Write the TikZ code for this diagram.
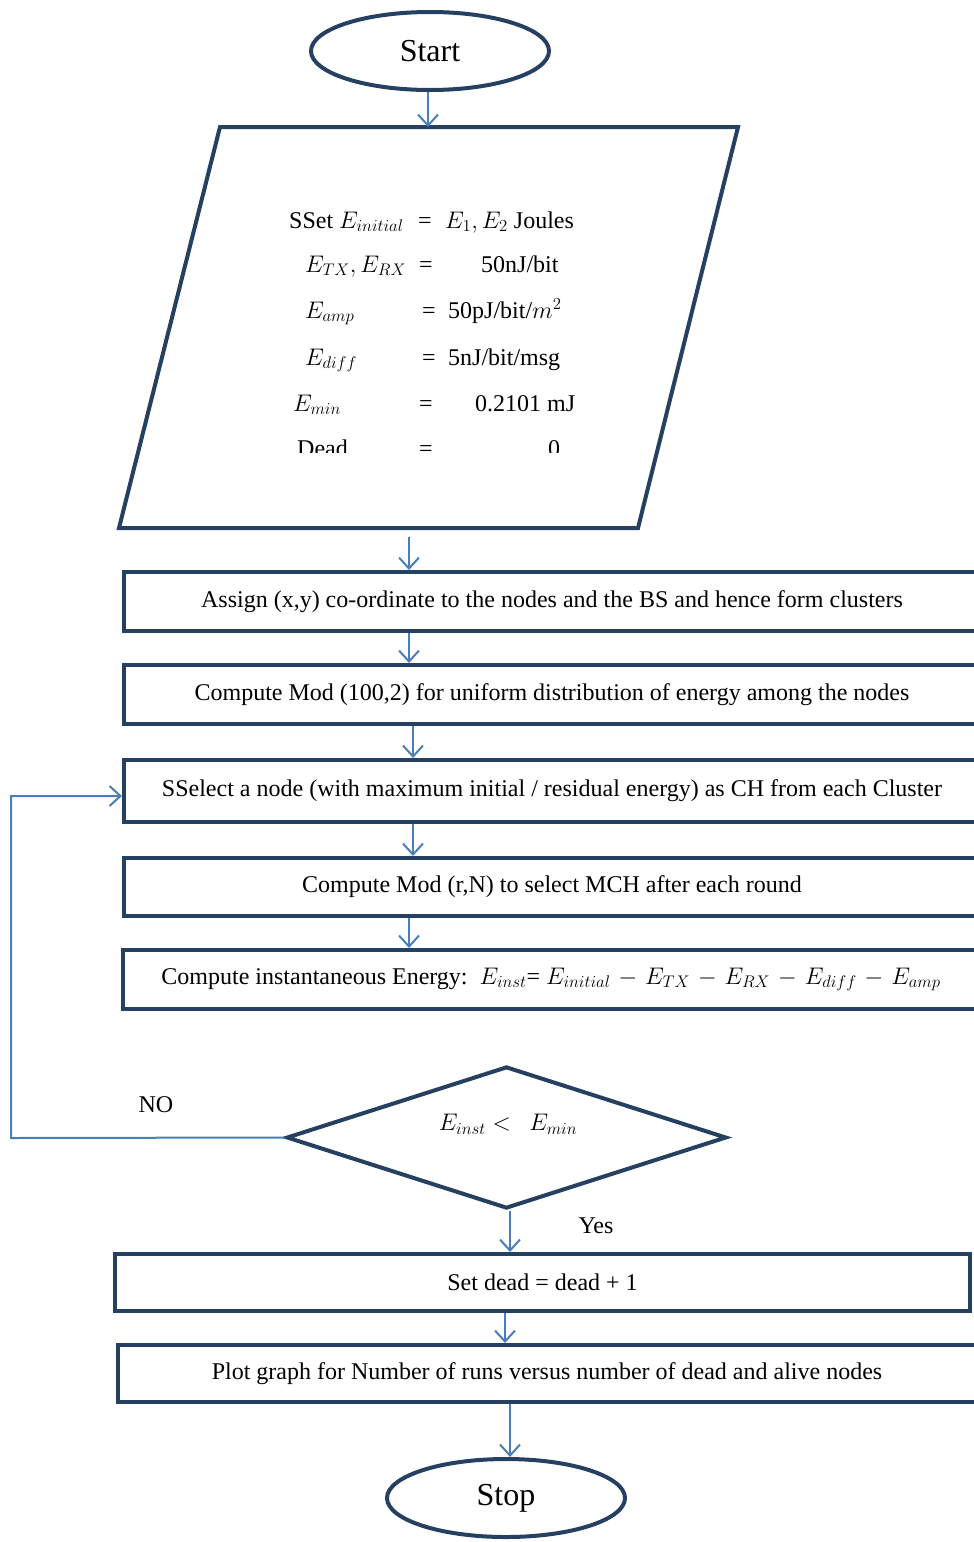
\RequirePackage{fix-cm}
\documentclass[tikz,border=0pt]{standalone}
\usepackage{fontspec}
\setmainfont{Liberation Serif}
\usetikzlibrary{shapes.geometric,arrows.meta}
\definecolor{navy}{RGB}{37,64,97}
\definecolor{flowblue}{RGB}{74,126,187}
\begin{document}
\begin{tikzpicture}[x=1pt,y=-1pt,
  frame/.style={draw=navy,line width=4pt},
  terminal/.style={frame,ellipse,minimum width=238pt,minimum height=78pt,inner sep=0pt,font=\fontsize{32}{36}\selectfont},
  stepbox/.style={frame,rectangle,minimum width=856pt,inner sep=0pt,font=\fontsize{24}{28}\selectfont},
  conn/.style={draw=flowblue,line width=2pt,-{Straight Barb[length=11pt,width=20pt,line width=2pt]}},
  lbl/.style={font=\fontsize{24}{28}\selectfont,inner sep=0pt}]
\useasboundingbox (0,0) rectangle (974,1542);

% terminals
\node[terminal] (start) at (430,51) {Start};
\node[terminal] (stop) at (506,1498) {Stop};

% input parallelogram
\coordinate (pTL) at (220,127);
\coordinate (pTR) at (738,127);
\coordinate (pBR) at (638,528);
\coordinate (pBL) at (119,528);
\coordinate (pIn) at (428,127);
\coordinate (pOut) at (409,537);
\draw[frame,line join=miter] (pTL)--(pTR)--(pBR)--(pBL)--cycle;

\begin{scope}
\clip (0,190) rectangle (974,452);
\node[lbl,anchor=base west] (l1a) at (289,228) {SSet $E_{initial}$};
\node[lbl,anchor=base] (l1b) at (425,228) {=};
\node[lbl,anchor=base west] (l1c) at (445,228) {$E_1, E_2$ Joules};
\node[lbl,anchor=base west] (l2a) at (305,272) {$E_{TX}, E_{RX}$};
\node[lbl,anchor=base] (l2b) at (426,272) {=};
\node[lbl,anchor=base west] (l2c) at (481,272) {50nJ/bit};
\node[lbl,anchor=base west] (l3a) at (305,318) {$E_{amp}$};
\node[lbl,anchor=base] (l3b) at (429,318) {=};
\node[lbl,anchor=base west] (l3c) at (448,318) {50pJ/bit/$m^2$};
\node[lbl,anchor=base west] (l4a) at (305,365) {$E_{diff}$};
\node[lbl,anchor=base] (l4b) at (429,365) {=};
\node[lbl,anchor=base west] (l4c) at (448,365) {5nJ/bit/msg};
\node[lbl,anchor=base west] (l5a) at (293,411) {$E_{min}$};
\node[lbl,anchor=base] (l5b) at (426,411) {=};
\node[lbl,anchor=base west] (l5c) at (475,411) {0.2101 mJ};
\node[lbl,anchor=base west] (l6a) at (297,456) {Dead};
\node[lbl,anchor=base] (l6b) at (426,456) {=};
\node[lbl,anchor=base west] (l6c) at (548,456) {0};
\end{scope}

% process boxes
\node[stepbox,minimum height=59pt] (box1) at (552,601.5) {Assign (x,y) co-ordinate to the nodes and the BS and hence form clusters};
\node[stepbox,minimum height=59pt] (box2) at (552,694.5) {Compute Mod (100,2) for uniform distribution of energy among the nodes};
\node[stepbox,minimum height=62pt] (box3) at (552,791) {SSelect a node (with maximum initial / residual energy) as CH from each Cluster};
\node[stepbox,minimum height=58pt] (box4) at (552,887) {Compute Mod (r,N) to select MCH after each round};
\node[stepbox,minimum height=59pt] (box5) at (551,979.5) {\medmuskip=6mu Compute instantaneous Energy:\ \ $E_{inst}$=\ $E_{initial} - E_{TX} - E_{RX} - E_{diff} - E_{amp}$};

% decision
\node[frame,diamond,aspect=3.06,minimum width=440pt,minimum height=142pt,inner sep=0pt] (dec) at (506.5,1137.5) {};
\node[lbl] (dtext) at (508,1124) {$E_{inst} <\ \ E_{min}$};

\node[stepbox,minimum width=855pt,minimum height=57pt] (box6) at (542.5,1282.5) {Set dead = dead + 1};
\node[stepbox,minimum width=858pt,minimum height=57pt] (box7) at (547,1373.5) {Plot graph for Number of runs versus number of dead and alive nodes};

% connectors
\draw[conn] (start.south -| pIn) -- (pIn);
\draw[conn] (pOut) -- (box1.north -| pOut);
\draw[conn] (box1.south -| 409,0) -- (box2.north -| 409,0);
\draw[conn] (box2.south -| 413,0) -- (box3.north -| 413,0);
\draw[conn] (box3.south -| 413,0) -- (box4.north -| 413,0);
\draw[conn] (box4.south -| 409,0) -- (box5.north -| 409,0);
\coordinate (loopB) at (11,1138);
\coordinate (loopT) at (11,796);
\draw[conn] (dec.west) -- (loopB) -- (loopT) -- (box3.west |- loopT);
\draw[conn] (dec.south -| 510,0) -- (box6.north -| 510,0);
\draw[conn] (box6.south -| 505,0) -- (box7.north -| 505,0);
\draw[conn] (box7.south -| 510,0) -- (stop.north -| 510,0);

% branch labels
\node[lbl] (no) at (156,1105) {NO};
\node[lbl] (yes) at (596,1226) {Yes};
\end{tikzpicture}
\end{document}
